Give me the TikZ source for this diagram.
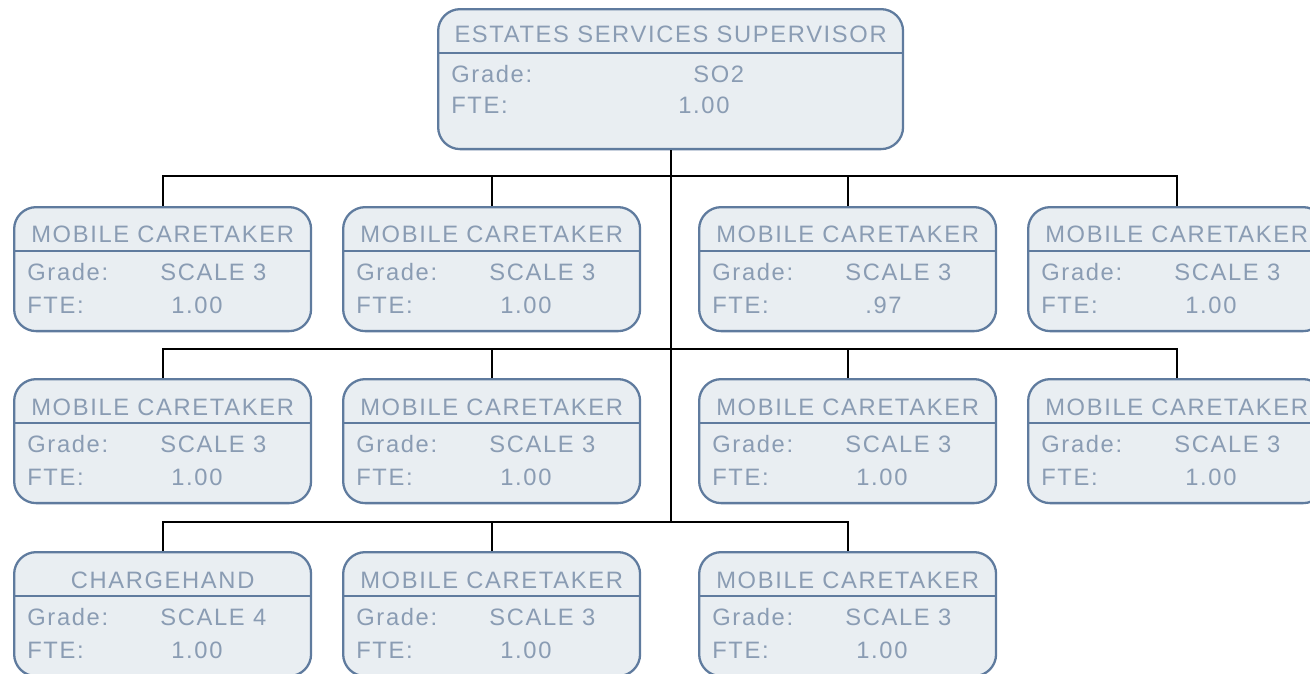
\documentclass[tikz,border=0pt]{standalone}
\usepackage{fontspec}
\usetikzlibrary{positioning,calc}
\newfontfamily\cardfont{Liberation Sans}[LetterSpace=7]
\definecolor{cLine}{HTML}{5F7B9E}
\definecolor{cFill}{HTML}{E9EEF2}
\definecolor{cText}{HTML}{8A9CB3}
\tikzset{
  card/.style={draw=cLine,fill=cFill,line width=1.3pt,rounded corners=0.44cm,anchor=north west,
    minimum width=5.94cm,minimum height=2.48cm,inner sep=0pt},
  ttl/.style={anchor=base,text=cText,inner sep=0pt,font=\cardfont\fontsize{13.5}{15}\selectfont},
  txt/.style={anchor=base west,text=cText,inner sep=0pt,font=\cardfont\fontsize{13.5}{15}\selectfont},
  link/.style={draw=black,line width=1.2pt},
}
% one post: name, left, top, title, grade, fte (optional: fte offset)
\newcommand{\card}[7][158]{%
  \node[card] (#2) at (#3,#4) {};
  \draw[cLine,line width=1.3pt] ([yshift=-0.9cm]#2.north west) -- ([yshift=-0.9cm]#2.north east);
  \node[ttl] at ([yshift=-0.74cm]#2.north) {#5};
  \node[txt] at ([shift={(14,74)}]#2.north west) {Grade:};
  \node[txt] at ([shift={(147,74)}]#2.north west) {#6};
  \node[txt] at ([shift={(14,107)}]#2.north west) {FTE:};
  \node[txt] at ([shift={(#1,107)}]#2.north west) {#7};
}

\begin{document}
\begin{tikzpicture}[x=0.02cm,y=-0.02cm]
  \useasboundingbox (0,0) rectangle (1310,673);

  % supervisor
  \node[card,minimum width=9.3cm,minimum height=2.8cm] (sup) at (437,8) {};
  \draw[cLine,line width=1.3pt] ([yshift=-0.9cm]sup.north west) -- ([yshift=-0.9cm]sup.north east);
  \node[ttl] at ([yshift=-0.7cm]sup.north) {ESTATES SERVICES SUPERVISOR};
  \node[txt] at ([shift={(14,74)}]sup.north west) {Grade:};
  \node[txt] at ([shift={(256,74)}]sup.north west) {SO2};
  \node[txt] at ([shift={(14,105)}]sup.north west) {FTE:};
  \node[txt] at ([shift={(241,105)}]sup.north west) {1.00};

  % caretakers
  \card{m1}{13}{206}{MOBILE CARETAKER}{SCALE 3}{1.00}
  \card{m2}{342}{206}{MOBILE CARETAKER}{SCALE 3}{1.00}
  \card[167]{m3}{698}{206}{MOBILE CARETAKER}{SCALE 3}{.97}
  \card{m4}{1027}{206}{MOBILE CARETAKER}{SCALE 3}{1.00}
  \card{m5}{13}{378}{MOBILE CARETAKER}{SCALE 3}{1.00}
  \card{m6}{342}{378}{MOBILE CARETAKER}{SCALE 3}{1.00}
  \card{m7}{698}{378}{MOBILE CARETAKER}{SCALE 3}{1.00}
  \card{m8}{1027}{378}{MOBILE CARETAKER}{SCALE 3}{1.00}
  \card{ch}{13}{551}{CHARGEHAND}{SCALE 4}{1.00}
  \card{m9}{342}{551}{MOBILE CARETAKER}{SCALE 3}{1.00}
  \card{m10}{698}{551}{MOBILE CARETAKER}{SCALE 3}{1.00}

  % reporting lines
  \coordinate (j3) at (sup.south |- 0,522);
  \draw[link] (sup.south) -- (j3);
  \draw[link] (m1.north) -- ++(0,-30) -| (m4.north);
  \draw[link] (m2.north) -- ++(0,-30);
  \draw[link] (m3.north) -- ++(0,-30);
  \draw[link] (m5.north) -- ++(0,-29) -| (m8.north);
  \draw[link] (m6.north) -- ++(0,-29);
  \draw[link] (m7.north) -- ++(0,-29);
  \draw[link] (ch.north) -- ++(0,-29) -| (m10.north);
  \draw[link] (m9.north) -- ++(0,-29);
\end{tikzpicture}
\end{document}
